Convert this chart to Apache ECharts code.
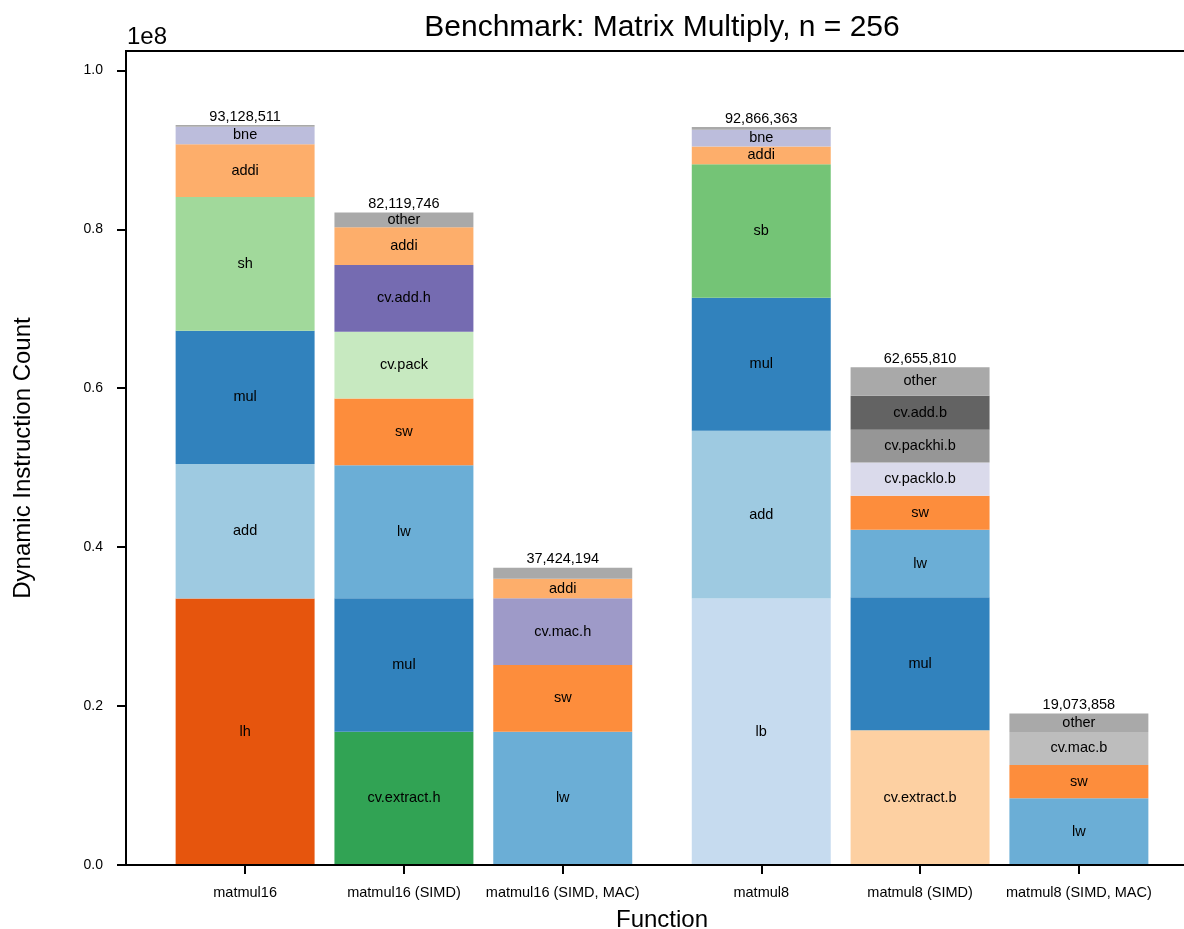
<!DOCTYPE html>
<html>
<head>
<meta charset="utf-8">
<script src="https://cdn.jsdelivr.net/npm/echarts@6/dist/echarts.min.js"></script>
<style>
  html, body { margin: 0; padding: 0; background: #fff; }
  #chart { width: 1184px; height: 929px; }
</style>
</head>
<body>
<div id="chart"></div>
<script>
// Dynamic instruction mix of each benchmark function, bottom of the stack first.
const functionNames = ['matmul16', 'matmul16 (SIMD)', 'matmul16 (SIMD, MAC)',
                       'matmul8', 'matmul8 (SIMD)', 'matmul8 (SIMD, MAC)'];

const matmul16Ops = ['lh', 'add', 'mul', 'sh', 'addi', 'bne', 'other'];
const matmul16Counts = [33550000, 16900000, 16780000, 16850000, 6640000, 2200000, 208511];

const matmul16SimdOps = ['cv.extract.h', 'mul', 'lw', 'sw', 'cv.pack', 'cv.add.h', 'addi', 'other'];
const matmul16SimdCounts = [16780000, 16780000, 16750000, 8400000, 8400000, 8400000, 4750000, 1859746];

const matmul16MacOps = ['lw', 'sw', 'cv.mac.h', 'addi', 'other'];
const matmul16MacCounts = [16780000, 8400000, 8380000, 2460000, 1404194];

const matmul8Ops = ['lb', 'add', 'mul', 'sb', 'addi', 'bne', 'other'];
const matmul8Counts = [33550000, 21100000, 16750000, 16800000, 2230000, 2100000, 336363];

const matmul8SimdOps = ['cv.extract.b', 'mul', 'lw', 'sw', 'cv.packlo.b', 'cv.packhi.b', 'cv.add.b', 'other'];
const matmul8SimdCounts = [16950000, 16750000, 8480000, 4280000, 4200000, 4130000, 4280000, 3585810];

const matmul8MacOps = ['lw', 'sw', 'cv.mac.b', 'other'];
const matmul8MacCounts = [8390000, 4200000, 4150000, 2333858];

const yTickValues = [0, 20000000, 40000000, 60000000, 80000000, 100000000];

// ---- presentation ----
const FONT = '"Liberation Sans", Arial, Helvetica, sans-serif';
const slots = [0, 1, 2, 3.25, 4.25, 5.25];   // x position of each bar (gap between the two groups)
const barFrac = 0.875;                        // bar width in x-axis units
const labelMin = 1600000;                     // segments smaller than this stay unlabelled

const opColors = {
  'lh': '#e6550d', 'lb': '#c6dbef', 'add': '#9ecae1', 'mul': '#3182bd',
  'sh': '#a1d99b', 'sb': '#74c476', 'addi': '#fdae6b', 'bne': '#bcbddc',
  'lw': '#6baed6', 'sw': '#fd8d3c', 'cv.extract.h': '#31a354', 'cv.extract.b': '#fdd0a2',
  'cv.pack': '#c7e9c0', 'cv.add.h': '#756bb1', 'cv.mac.h': '#9e9ac8',
  'cv.packlo.b': '#dadaeb', 'cv.packhi.b': '#969696', 'cv.add.b': '#636363',
  'cv.mac.b': '#bdbdbd', 'other': '#a9a9a9'
};

const stacks = [
  [matmul16Ops, matmul16Counts],
  [matmul16SimdOps, matmul16SimdCounts],
  [matmul16MacOps, matmul16MacCounts],
  [matmul8Ops, matmul8Counts],
  [matmul8SimdOps, matmul8SimdCounts],
  [matmul8MacOps, matmul8MacCounts]
];

// Flatten into segments: [x, bottom, top] with the op name kept alongside.
const segData = [];
const segOps = [];
const totals = [];
stacks.forEach((s, i) => {
  let base = 0;
  s[1].forEach((v, k) => {
    segData.push([slots[i], base, base + v]);
    segOps.push(s[0][k]);
    base += v;
  });
  totals.push(base);
});

const chart = echarts.init(document.getElementById('chart'), null, { renderer: 'canvas' });
chart.setOption({
  animation: false,
  backgroundColor: '#fff',
  textStyle: { fontFamily: FONT },
  grid: {
    left: 126, top: 51, width: 1072, height: 814,
    outerBoundsMode: 'none',
    containLabel: false,
    show: true, borderColor: '#000', borderWidth: 2, backgroundColor: 'transparent'
  },
  graphic: [
    {
      type: 'text', x: 662, y: 13, silent: true,
      style: {
        text: 'Benchmark: Matrix Multiply, n = 256',
        font: '30px ' + FONT, fill: '#000',
        textAlign: 'center', textVerticalAlign: 'top'
      }
    },
    {
      type: 'text', x: 127, y: 25, silent: true,
      style: {
        text: '1e8', font: '24px ' + FONT, fill: '#000',
        textAlign: 'left', textVerticalAlign: 'top'
      }
    }
  ],
  xAxis: {
    type: 'value',
    min: -0.75,
    max: 6.0,
    z: 10,
    name: 'Function',
    nameLocation: 'middle',
    nameGap: 43,
    nameTextStyle: { fontSize: 24, color: '#000', fontFamily: FONT },
    axisLine: { show: true, onZero: false, lineStyle: { color: '#000', width: 2 } },
    axisTick: { show: true, length: 9, lineStyle: { color: '#000', width: 2 }, customValues: slots },
    axisLabel: {
      show: true, margin: 20, fontSize: 14.5, color: '#000', fontFamily: FONT,
      customValues: slots,
      formatter: v => {
        const i = slots.findIndex(s => Math.abs(s - v) < 1e-6);
        return i >= 0 ? functionNames[i] : '';
      }
    },
    splitLine: { show: false }
  },
  yAxis: {
    type: 'value',
    min: 0,
    max: 102441362,
    z: 10,
    name: 'Dynamic Instruction Count',
    nameLocation: 'middle',
    nameGap: 91,
    nameTextStyle: { fontSize: 24, color: '#000', fontFamily: FONT },
    axisLine: { show: true, onZero: false, lineStyle: { color: '#000', width: 2 } },
    axisTick: { show: true, length: 9, lineStyle: { color: '#000', width: 2 }, customValues: yTickValues },
    axisLabel: {
      show: true, margin: 23, fontSize: 14, color: '#000', fontFamily: FONT,
      customValues: yTickValues,
      formatter: v => (v / 1e8).toFixed(1)
    },
    splitLine: { show: false }
  },
  series: [
    {
      // stacked instruction segments
      type: 'custom',
      silent: true,
      animation: false,
      encode: { x: 0, y: [1, 2] },
      data: segData,
      renderItem: (params, api) => {
        const x = api.value(0);
        const lo = api.coord([x, api.value(1)]);
        const hi = api.coord([x, api.value(2)]);
        const w = api.size([barFrac, 0])[0];
        const op = segOps[params.dataIndex];
        const v = api.value(2) - api.value(1);
        const el = {
          type: 'rect',
          shape: { x: lo[0] - w / 2, y: hi[1], width: w, height: lo[1] - hi[1] },
          style: { fill: opColors[op] }
        };
        if (v >= labelMin) {
          el.textContent = {
            style: { text: op, fill: '#000', font: '14.5px ' + FONT }
          };
          el.textConfig = { position: 'inside' };
        }
        return el;
      },
      z: 2
    },
    {
      // totals printed above each bar
      type: 'custom',
      silent: true,
      animation: false,
      encode: { x: 0, y: 1 },
      data: totals.map((t, i) => [slots[i], t]),
      renderItem: (params, api) => {
        const p = api.coord([api.value(0), api.value(1)]);
        return {
          type: 'text',
          x: p[0],
          y: p[1] - 1,
          style: {
            text: totals[params.dataIndex].toLocaleString('en-US'),
            fill: '#000',
            font: '14.5px ' + FONT,
            textAlign: 'center',
            textVerticalAlign: 'bottom'
          }
        };
      },
      z: 3
    }
  ]
});
</script>
</body>
</html>
